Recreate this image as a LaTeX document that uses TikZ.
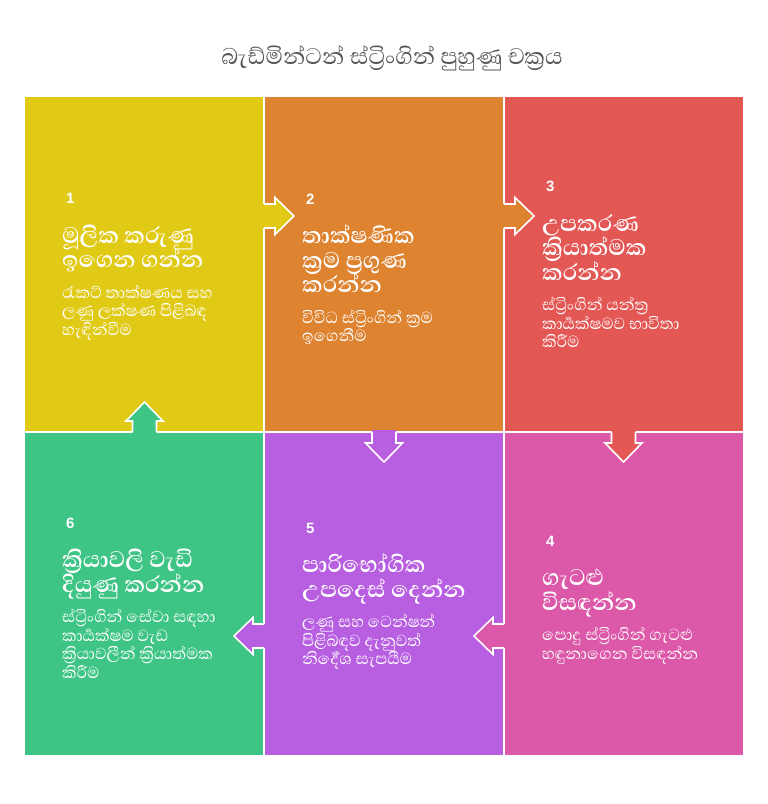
\documentclass[tikz,border=0pt]{standalone}
\usepackage{fontspec}
\setmainfont{Liberation Sans}
\newfontfamily\sinfont[Script=Sinhala]{Abhaya Libre}
\usetikzlibrary{positioning}
\definecolor{yellowc}{HTML}{E0CA16}
\definecolor{orangec}{HTML}{DE8330}
\definecolor{redc}{HTML}{E35855}
\definecolor{pinkc}{HTML}{DC58A8}
\definecolor{purplec}{HTML}{B75EE1}
\definecolor{greenc}{HTML}{3EC585}
\definecolor{titlec}{HTML}{555555}
\setlength{\lineskiplimit}{-100pt}
\newcommand\headstrut{\rule{0pt}{26pt}}
\newcommand\headfoot{\rule[-10pt]{0pt}{10pt}}
\newcommand\infostrut{\rule{0pt}{20pt}}
\begin{document}
\begin{tikzpicture}[x=1pt,y=-1pt,
        cell/.style={draw=white,line width=2pt},
        flow/.style={draw=white,line width=1.6pt,line join=miter},
        num/.style={font=\bfseries\fontsize{15}{15}\selectfont,text=white,inner sep=0pt,anchor=base west},
        head/.style={font=\sinfont\bfseries\fontsize{29}{24.5}\selectfont,text=white,align=left,inner sep=0pt},
        info/.style={font=\sinfont\fontsize{20.5}{18.5}\selectfont,text=white,align=left,inner sep=0pt},
        chev/.pic={
            \fill[#1] (-2,-12) -- (11,-12) -- (11,-18.5) -- (30,0) -- (11,18.5) -- (11,12) -- (-2,12) -- cycle;
            \draw[flow] (0,-12) -- (11,-12) -- (11,-18.5) -- (30,0) -- (11,18.5) -- (11,12) -- (0,12);
        }]
        \useasboundingbox (0,0) rectangle (768,804);
        \node[font=\sinfont\fontsize{29}{30}\selectfont,text=titlec] (title) at (392,58) {බැඩ්මින්ටන් ස්ට්^^^^200dරිංගින් පුහුණු චක්^^^^200dරය};

        % Six cells, first row then second row
        \filldraw[cell,fill=yellowc] (24,96) rectangle (264,432);
        \filldraw[cell,fill=orangec] (264,96) rectangle (504,432);
        \filldraw[cell,fill=redc] (504,96) rectangle (744,432);
        \filldraw[cell,fill=greenc] (24,432) rectangle (264,756);
        \filldraw[cell,fill=purplec] (264,432) rectangle (504,756);
        \filldraw[cell,fill=pinkc] (504,432) rectangle (744,756);

        % Arrows between the cells
        \coordinate (a12) at (264,216);
        \coordinate (a23) at (504,216);
        \coordinate (a34) at (623.5,432);
        \coordinate (a25) at (384,432);
        \coordinate (a45) at (504,636);
        \coordinate (a56) at (264,636);
        \coordinate (a61) at (144.5,432);
        \pic at (a12) {chev=yellowc};
        \pic at (a23) {chev=orangec};
        \pic[rotate=-90] at (a34) {chev=redc};
        \pic[rotate=-90] at (a25) {chev=purplec};
        \pic[rotate=180] at (a45) {chev=pinkc};
        \pic[rotate=180] at (a56) {chev=purplec};
        \pic[rotate=90] at (a61) {chev=greenc};

        % Texts of the first row
        \node[num] (n1) at (66,203.5) {1};
        \node[head,below right=13.5pt and -4pt of n1.base west] (h1) {\headstrut මූලික කරුණු\\ඉගෙන ගන්න\headfoot};
        \node[info,below right=0pt and 0pt of h1.south west] (d1) {\infostrut රැකට් තාක්ෂණය සහ\\ලණු ලක්ෂණ පිළිබඳ\\හැඳින්වීම};

        \node[num] (n2) at (306,204) {2};
        \node[head,below right=13.5pt and -4pt of n2.base west] (h2) {\headstrut තාක්ෂණික\\ක්^^^^200dරම ප්^^^^200dරගුණ\\කරන්න\headfoot};
        \node[info,below right=0pt and 0pt of h2.south west] (d2) {\infostrut විවිධ ස්ට්^^^^200dරිංගින් ක්^^^^200dරම\\ඉගෙනීම};

        \node[num] (n3) at (546,191.5) {3};
        \node[head,below right=13.5pt and -4pt of n3.base west] (h3) {\headstrut උපකරණ\\ක්^^^^200dරියාත්මක\\කරන්න\headfoot};
        \node[info,below right=0pt and 0pt of h3.south west] (d3) {\infostrut ස්ට්^^^^200dරිංගින් යන්ත්^^^^200dර\\කාර්^^^^200dයක්ෂමව භාවිතා\\කිරීම};

        % Texts of the second row
        \node[num] (n6) at (66,528) {6};
        \node[head,below right=13.5pt and -4pt of n6.base west] (h6) {\headstrut ක්^^^^200dරියාවලි වැඩි\\දියුණු කරන්න\headfoot};
        \node[info,below right=0pt and 0pt of h6.south west] (d6) {\infostrut ස්ට්^^^^200dරිංගින් සේවා සඳහා\\කාර්^^^^200dයක්ෂම වැඩ\\ක්^^^^200dරියාවලීන් ක්^^^^200dරියාත්මක\\කිරීම};

        \node[num] (n5) at (306,533) {5};
        \node[head,below right=13.5pt and -4pt of n5.base west] (h5) {\headstrut පාරිභෝගික\\උපදෙස් දෙන්න\headfoot};
        \node[info,below right=0pt and 0pt of h5.south west] (d5) {\infostrut ලණු සහ ටෙන්ෂන්\\පිළිබඳව දැනුවත්\\නිර්^^^^200dදේශ සැපයීම};

        \node[num] (n4) at (546,546) {4};
        \node[head,below right=13.5pt and -4pt of n4.base west] (h4) {\headstrut ගැටළු\\විසඳන්න\headfoot};
        \node[info,below right=0pt and 0pt of h4.south west] (d4) {\infostrut පොදු ස්ට්^^^^200dරිංගින් ගැටළු\\හඳුනාගෙන විසඳන්න};
\end{tikzpicture}
\end{document}
